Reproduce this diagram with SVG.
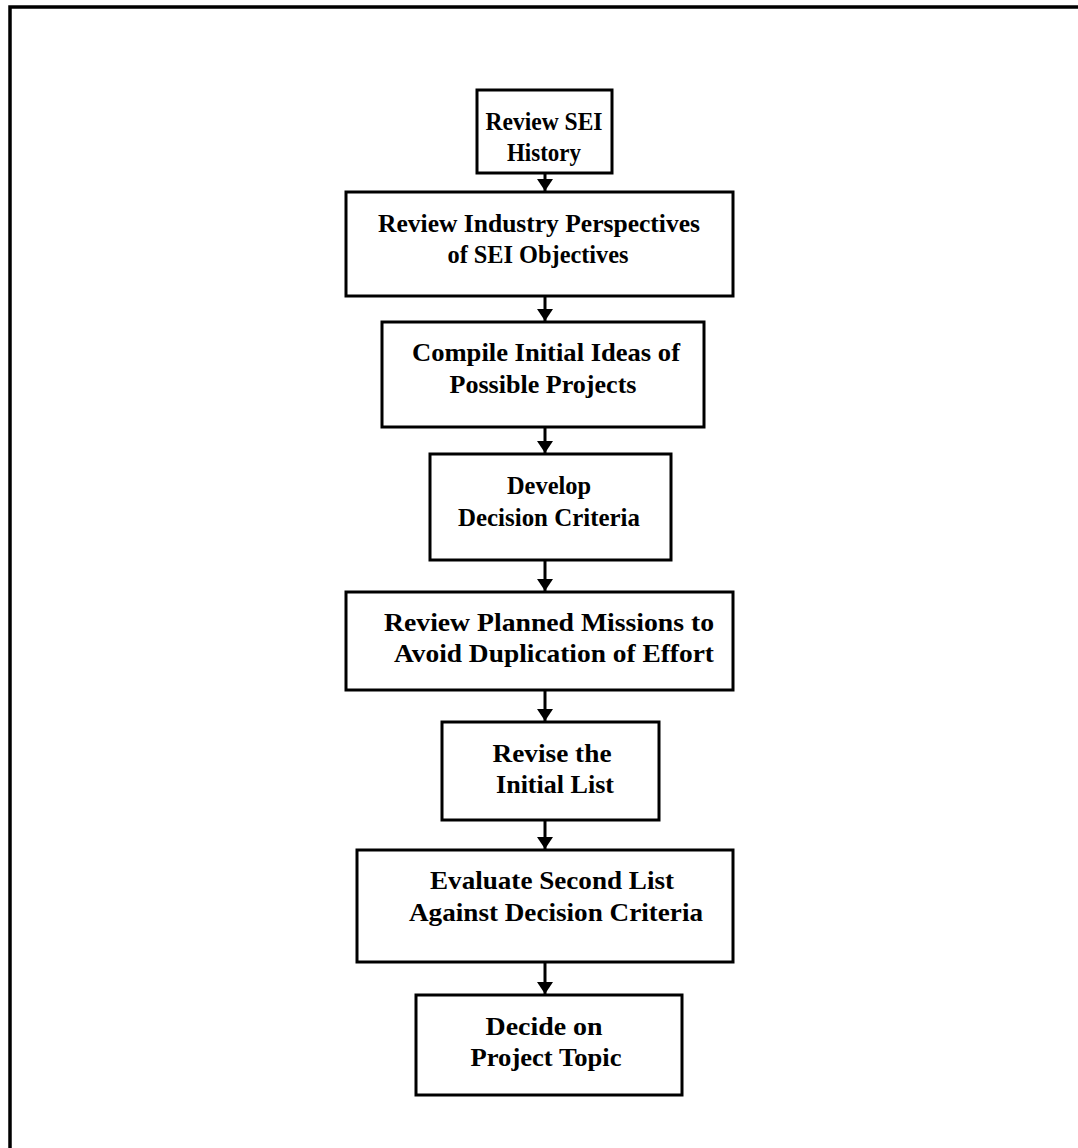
<svg xmlns="http://www.w3.org/2000/svg" width="1078" height="1148" viewBox="0 0 1078 1148">
  <style>
    .box { fill: #ffffff; stroke: #000000; stroke-width: 3; }
    .lbl { font-family: "Liberation Serif", "DejaVu Serif", serif; font-size: 26px; font-weight: bold; fill: #000000; text-anchor: middle; }
    .link { stroke: #000000; stroke-width: 3; fill: none; marker-end: url(#arrow); }
    .frame { stroke: #000000; stroke-width: 3.5; fill: none; }
  </style>
  <defs>
    <marker id="arrow" viewBox="0 0 12 16" refX="12" refY="8" markerWidth="12" markerHeight="16" markerUnits="userSpaceOnUse" orient="auto">
      <path d="M0,0 L12,8 L0,16 Z" fill="#000000"/>
    </marker>
  </defs>
  <rect width="1078" height="1148" fill="#ffffff"/>

  <!-- page frame: top and left rules -->
  <path class="frame" d="M10,1148 L10,7 L1078,7"/>

  <g id="connectors">
    <line class="link" x1="545" y1="173" x2="545" y2="191"/>
    <line class="link" x1="545" y1="296" x2="545" y2="321"/>
    <line class="link" x1="545" y1="427" x2="545" y2="453"/>
    <line class="link" x1="545" y1="560" x2="545" y2="591"/>
    <line class="link" x1="545" y1="690" x2="545" y2="721"/>
    <line class="link" x1="545" y1="820" x2="545" y2="849"/>
    <line class="link" x1="545" y1="962" x2="545" y2="994"/>
  </g>

  <g id="review-history">
    <rect class="box" x="477" y="90" width="135" height="83"/>
    <text class="lbl" x="544" y="130" textLength="117" lengthAdjust="spacingAndGlyphs">Review SEI</text>
    <text class="lbl" x="544" y="161" textLength="74" lengthAdjust="spacingAndGlyphs">History</text>
  </g>

  <g id="review-perspectives">
    <rect class="box" x="346" y="192" width="387" height="104"/>
    <text class="lbl" x="539" y="232" textLength="322" lengthAdjust="spacingAndGlyphs">Review Industry Perspectives</text>
    <text class="lbl" x="538" y="263" textLength="181" lengthAdjust="spacingAndGlyphs">of SEI Objectives</text>
  </g>

  <g id="compile-ideas">
    <rect class="box" x="382" y="322" width="322" height="105"/>
    <text class="lbl" x="546" y="361" textLength="268" lengthAdjust="spacingAndGlyphs">Compile Initial Ideas of</text>
    <text class="lbl" x="543" y="393" textLength="187" lengthAdjust="spacingAndGlyphs">Possible Projects</text>
  </g>

  <g id="develop-criteria">
    <rect class="box" x="430" y="454" width="241" height="106"/>
    <text class="lbl" x="549" y="494" textLength="84" lengthAdjust="spacingAndGlyphs">Develop</text>
    <text class="lbl" x="549" y="526" textLength="182" lengthAdjust="spacingAndGlyphs">Decision Criteria</text>
  </g>

  <g id="review-missions">
    <rect class="box" x="346" y="592" width="387" height="98"/>
    <text class="lbl" x="549" y="631" textLength="330" lengthAdjust="spacingAndGlyphs">Review Planned Missions to</text>
    <text class="lbl" x="554" y="662" textLength="320" lengthAdjust="spacingAndGlyphs">Avoid Duplication of Effort</text>
  </g>

  <g id="revise-list">
    <rect class="box" x="442" y="722" width="217" height="98"/>
    <text class="lbl" x="552" y="762" textLength="119" lengthAdjust="spacingAndGlyphs">Revise the</text>
    <text class="lbl" x="555" y="793" textLength="118" lengthAdjust="spacingAndGlyphs">Initial List</text>
  </g>

  <g id="evaluate-list">
    <rect class="box" x="357" y="850" width="376" height="112"/>
    <text class="lbl" x="552" y="889" textLength="244" lengthAdjust="spacingAndGlyphs">Evaluate Second List</text>
    <text class="lbl" x="556" y="921" textLength="294" lengthAdjust="spacingAndGlyphs">Against Decision Criteria</text>
  </g>

  <g id="decide-topic">
    <rect class="box" x="416" y="995" width="266" height="100"/>
    <text class="lbl" x="544" y="1035" textLength="117" lengthAdjust="spacingAndGlyphs">Decide on</text>
    <text class="lbl" x="546" y="1066" textLength="151" lengthAdjust="spacingAndGlyphs">Project Topic</text>
  </g>
</svg>
